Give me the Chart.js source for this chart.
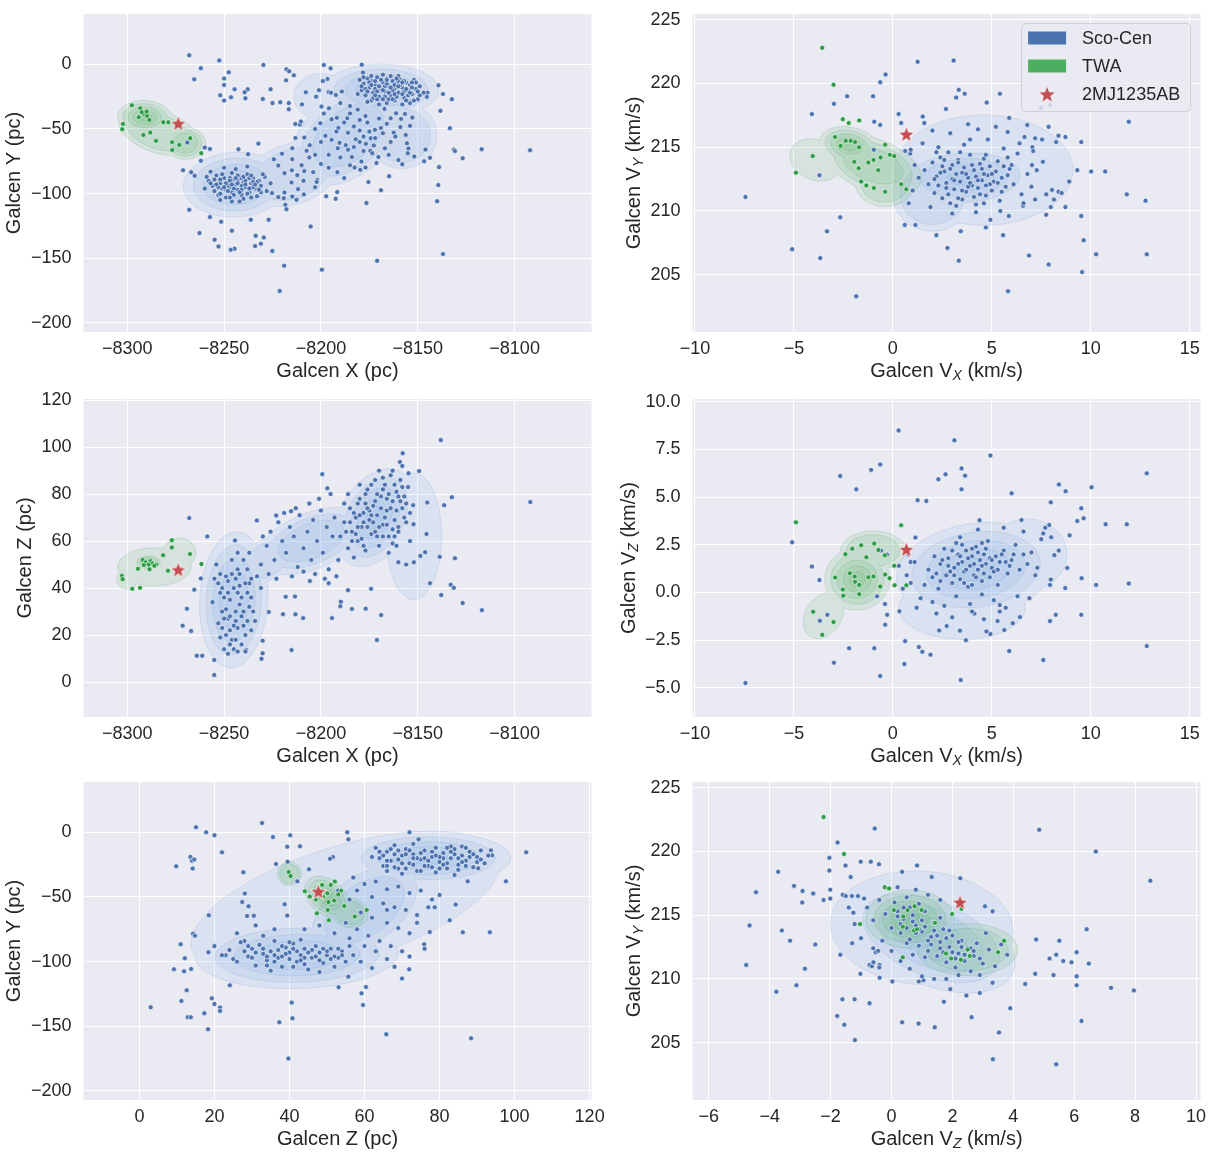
<!DOCTYPE html>
<html>
<head>
<meta charset="utf-8">
<script src="https://cdn.jsdelivr.net/npm/chart.js@4.4.1/dist/chart.umd.min.js"></script>
<style>
  body { margin: 0; background: #fff; }
  #page { position: relative; width: 1211px; height: 1162px; }
  canvas { position: absolute; }
</style>
</head>
<body>
<div id="page"></div>
<script>
// ---- data ----
const seriesNames = ['Sco-Cen', 'TWA', '2MJ1235AB'];

const xRange = [-8322.6, -8060.3];
const yRange = [-207, 38.9];
const zRange = [-14.9, 120.5];
const vxRange = [-10.12, 15.55];
const vyRange = [200.5, 225.45];
const vzRange = [-6.53, 10.15];

const xTicks = [-8300, -8250, -8200, -8150, -8100];
const yTicks = [0, -50, -100, -150, -200];
const zTicks = [0, 20, 40, 60, 80, 100, 120];
const vxTicks = [-10, -5, 0, 5, 10, 15];
const vyTicks = [205, 210, 215, 220, 225];
const vzTicksFine = [-5, -2.5, 0, 2.5, 5, 7.5, 10];
const vzTicksInt = [-6, -4, -2, 0, 2, 4, 6, 8, 10];

// 2MJ1235AB
const starX = -8273.7, starY = -45.9, starZ = 47.7;
const starVX = 0.68, starVY = 216.0, starVZ = 2.25;

// Sco-Cen / TWA members in each projection
const scoXY = [
  [-8268,7],[-8252.5,3],[-8229.7,-0.5],[-8262,-3],[-8265.4,-11.6],[-8247.6,-6.2],[-8250,-11],[-8250,-16],[-8252,-24],[-8250,-28],
  [-8246.4,-25.5],[-8244.6,-19.3],[-8237.8,-19.3],[-8239.4,-21.6],[-8239,-26.3],[-8226,-19.3],[-8230,-26.8],[-8225,-30],[-8221,-29.3],
  [-8217.8,-3.9],[-8216.4,-5.4],[-8214,-8.5],[-8218,-12.4],[-8216.6,-30],[-8216.6,-34.7],[-8209.8,-31],[-8207.8,-21.6],[-8198.5,-0.5],
  [-8195,-3.1],[-8196.6,-11.3],[-8199,-12.9],[-8201,-20],[-8202.5,-25],[-8196,-21.4],[-8194.8,-21.9],[-8192.3,-23.7],[-8189.2,-21.1],
  [-8178.3,-6.4],[-8178.9,-0.3],[-8139.3,-16.2],[-8137,-23],[-8132.4,-27],[-8145,-21.9],[-8145.3,-25.2],[-8133.4,-49.4],[-8138.3,-36],
  [-8152.8,-41.2],[-8154,-47.6],[-8159,-48.4],[-8146,-65.9],[-8131.4,-65.9],[-8130.8,-67],[-8126.8,-72.6],[-8117,-65.6],[-8092,-66.4],
  [-8143.7,-72.3],[-8146.7,-75],[-8139,-79.5],[-8139.4,-93.4],[-8140,-105.8],[-8137,-146.7],[-8171,-152],[-8158,-77.2],[-8164.8,-86.5],
  [-8169,-97.3],[-8175.5,-91],[-8176.5,-107.3],[-8182.6,-79.8],[-8191.5,-83.4],[-8191.6,-98.8],[-8192.4,-104],[-8197.3,-102],
  [-8205.3,-125.4],[-8199.5,-158.8],[-8219,-155.7],[-8221.3,-175.3],[-8225.1,-144.4],[-8227,-120.2],[-8229.5,-133.9],[-8233.7,-132.6],
  [-8234,-140.5],[-8231,-138.7],[-8236.2,-120.2],[-8244.6,-142.6],[-8246.6,-143.4],[-8246,-128.7],[-8252.9,-140.8],[-8254.9,-135.6],
  [-8262.7,-130.5],[-8257.3,-118.1],[-8251.5,-121.7],[-8268,-112.5],[-8271.2,-81.9],[-8267,-83.4],[-8265.2,-86.2],[-8262,-74.6],
  [-8257.3,-65.4],[-8260,-64.4],[-8269,-60.5],[-8232.3,-61.3],[-8242.6,-65.6],[-8237.6,-69.5],
  [-8213.2,-46.1],[-8210.9,-46.6],[-8210.3,-44.3],[-8213.2,-56.9],[-8208.6,-56.6],[-8207.4,-66.9],[-8205.8,-62.5],[-8214.8,-64.9],
  [-8220.1,-69.2],[-8214.8,-73.4],[-8212.2,-85.7],[-8208.6,-82.6],[-8204,-83.4],[-8201.9,-89.3],[-8202.2,-90.9],[-8222,-78.3],
  [-8224.3,-73.4],[-8218.8,-84.2],[-8215.2,-91.4],[-8211.8,-96.5],[-8208.8,-100.6],[-8212.6,-104.8],[-8214.8,-102.2],[-8219.2,-103.5],
  [-8222,-102.7],[-8218.8,-99.1],[-8225.3,-99.6],[-8218.4,-108.6],[-8217.8,-112],[-8198.5,-38.1],[-8199.7,-32.7],[-8195.9,-34],
  [-8194.5,-42.5],[-8191.8,-41.4],[-8191,-49.2],[-8200.3,-45.6],[-8197.7,-55.3],[-8194.5,-58.4],[-8190.4,-60.7],[-8191.3,-64.9],
  [-8187.2,-62.5],[-8185,-32.2],[-8186.4,-41.7],[-8180,-51.2],[-8178,-55.9],[-8176.8,-61.5],[-8174.3,-57.1],[-8174.5,-66.9],
  [-8172.1,-50.7],[-8169,-49.2],[-8168,-53.3],[-8172.7,-62.8],[-8170.3,-71.6],[-8171.3,-76.4],[-8173.5,-68.7],[-8179.1,-75.2],
  [-8179.7,-81.6],[-8177,-79.8],[-8184,-71.6],[-8167.2,-34.5],[-8161.2,-37.8],[-8164,-41.7],[-8156.6,-38.4],[-8158.6,-42.2],
  [-8162.4,-52.8],[-8161.6,-55.9],[-8156.2,-54.6],[-8155.6,-61],[-8154.8,-65.1],[-8155.2,-68.7],[-8151.8,-71.3],
  [-8188,-45],[-8183,-48],[-8182,-58],[-8186,-53],[-8192,-52],[-8180,-43],[-8176,-45],[-8170,-42],[-8166,-46],[-8183,-64],
  [-8178,-67],[-8164,-60],[-8167,-65],[-8200,-60],[-8203,-50],[-8206,-72],[-8200,-77],[-8196,-70],[-8203,-95],[-8209,-90],
  [-8196,-80],[-8188,-88],
  [-8190,-30],[-8185,-38],[-8181,-35],[-8177,-40],[-8175,-52],[-8172,-57],[-8180,-60],[-8186,-66],[-8190,-72],[-8165,-70],
  [-8160,-74],[-8185,-78],[-8203,-70],[-8210,-78],[-8215,-82],
  [-8180,-12],[-8178,-15],[-8176,-11],[-8175,-18],[-8174,-13],[-8173,-22],[-8172,-16],[-8171,-10],[-8170,-25],[-8169,-19],
  [-8168,-14],[-8167,-21],[-8166,-11],[-8165,-17],[-8164,-24],[-8163,-13],[-8162,-19],[-8161,-15],[-8160,-22],[-8159,-12],
  [-8158,-18],[-8157,-26],[-8156,-14],[-8155,-20],[-8154,-16],[-8153,-23],[-8152,-12],[-8151,-19],[-8150,-27],[-8177,-24],
  [-8174,-28],[-8170,-31],[-8166,-30],[-8162,-28],[-8158,-31],[-8154,-30],[-8179,-20],[-8181,-23],[-8168,-8],[-8164,-9],
  [-8160,-9],[-8172,-19],[-8165,-22],[-8157,-21],[-8149,-17],[-8147,-22],
  [-8179,-17],[-8177,-19],[-8175,-14],[-8173,-26],[-8171,-21],[-8169,-12],[-8167,-17],[-8165,-27],[-8163,-20],[-8161,-25],
  [-8159,-16],[-8157,-13],[-8155,-24],[-8153,-18],[-8151,-14],[-8149,-24],[-8176,-29],[-8171,-27],[-8167,-25],[-8162,-16],
  [-8158,-23],[-8156,-28],[-8174,-9],[-8160,-13],[-8152,-28],
  [-8174,-16],[-8172,-13],[-8170,-17],[-8168,-20],[-8166,-15],[-8164,-18],[-8162,-23],[-8160,-17],[-8158,-14],[-8156,-19],
  [-8154,-22],[-8168,-27],[-8163,-27],[-8176,-21],[-8172,-24],[-8166,-12],[-8161,-11],[-8153,-14],[-8150,-21],[-8178,-10],
  [-8258,-90],[-8256,-94],[-8255,-98],[-8254,-86],[-8253,-101],[-8252,-92],[-8251,-96],[-8250,-88],[-8249,-103],[-8248,-91],
  [-8247,-95],[-8246,-84],[-8246,-99],[-8245,-89],[-8244,-93],[-8243,-97],[-8242,-87],[-8241,-101],[-8240,-91],[-8239,-95],
  [-8238,-85],[-8237,-99],[-8236,-92],[-8235,-88],[-8234,-96],[-8233,-102],[-8232,-90],[-8231,-94],[-8229,-87],[-8228,-98],
  [-8250,-80],[-8244,-81],[-8238,-79],[-8252,-105],[-8246,-106],[-8240,-104],[-8260,-96],[-8257,-83],[-8226,-92],[-8243,-90],
  [-8248,-94],[-8241,-88],
  [-8257,-92],[-8255,-89],[-8253,-95],[-8251,-85],[-8249,-97],[-8247,-88],[-8245,-101],[-8243,-86],[-8241,-94],[-8239,-90],
  [-8237,-88],[-8235,-95],[-8233,-91],[-8231,-99],[-8247,-103],[-8252,-100],[-8242,-106],[-8236,-103],[-8230,-85],[-8259,-87],
  [-8249,-92],[-8247,-90],[-8245,-96],[-8243,-92],[-8241,-97],[-8239,-93],[-8237,-96],[-8235,-91],[-8244,-88],[-8240,-87],
  [-8248,-98],[-8246,-93],[-8242,-99],[-8238,-100],[-8250,-95],[-8252,-89],[-8254,-93],[-8234,-93],[-8236,-86],[-8232,-97]
];
const twaXY = [
  [-8297.6,-31.7],[-8293.3,-34],[-8291.5,-38.4],[-8289.8,-39.9],[-8294.1,-40.9],[-8288.6,-43],[-8302.2,-46.1],[-8302.6,-50.2],
  [-8281.4,-44.8],[-8278.8,-44.8],[-8288.1,-52.8],[-8291.7,-54.6],[-8285.2,-59.2],[-8276.9,-60.2],[-8273.1,-62.3],[-8267.5,-57.1],
  [-8276.8,-66.2],[-8261.8,-68.7],[-8292.5,-37],[-8290,-36.5]
];

const scoVXVY = [
  [-7.45,211.1],[-5.09,207.0],[-3.67,206.3],[-3.33,208.4],[-2.66,209.5],[-1.85,203.3],[-3.71,212.8],[-4.09,217.6],[-2.98,218.4],
  [-2.31,219.0],[-1.0,219.0],[-0.64,220.1],[-0.37,220.7],[1.25,221.7],[3.07,221.8],[3.33,219.5],[3.2,218.9],[3.63,219.2],[5.41,219.2],
  [4.74,218.5],[7.49,218.1],[7.94,218.3],[11.92,217.0],[0.29,217.6],[-0.94,217.0],[-0.64,216.75],[0.42,216.9],[1.51,217.4],[1.59,216.9],
  [2.68,218.0],[5.88,217.3],[6.79,216.75],[7.87,216.6],[8.72,215.8],[8.37,215.9],[8.25,215.4],[9.52,215.4],[9.32,213.2],[10.02,213.1],
  [10.73,213.1],[8.91,212.3],[11.82,211.3],[12.77,210.8],[9.52,209.6],[9.64,207.7],[10.27,206.6],[12.83,206.6],[9.56,205.2],[7.87,205.8],
  [6.88,206.5],[5.82,203.7],[3.33,206.1],[2.76,207.1],[2.2,208.1],[4.7,208.7],[5.57,208.1],[4.93,209.3],[5.86,209.6],[5.43,210.0],
  [6.58,210.4],[7.75,209.7],[7.98,210.3],[8.72,210.3],[7.75,211.3],[8.04,211.65],[8.37,211.5],[8.53,211.4],[8.14,210.9],[7.19,210.9],
  [7.03,213.6],[7.58,213.85],[7.27,213.2],[7.05,215.0],[7.09,214.7],[7.19,215.7],[7.54,215.6],[6.65,215.8],[0.6,208.9],[1.14,208.9],
  [3.43,208.4],[0.62,214.7],[0.88,214.5],[-0.96,214.8],
  [1.6,213.2],[1.8,212.1],[2.0,213.8],[2.1,211.4],[2.2,212.7],[2.4,214.2],[2.5,211.0],[2.6,213.1],[2.7,212.2],[2.8,214.6],
  [2.9,210.6],[3.0,213.6],[3.1,211.7],[3.2,212.9],[3.3,214.0],[3.4,212.3],[3.5,210.9],[3.6,213.4],[3.7,211.5],[3.8,212.6],
  [3.9,214.4],[4.0,212.0],[4.1,213.2],[4.2,210.5],[4.3,211.8],[4.4,213.7],[4.5,212.4],[4.6,214.1],[4.7,211.2],[4.8,212.8],
  [4.9,213.5],[5.0,211.6],[5.1,212.3],[5.3,213.9],[5.4,210.8],[5.5,212.6],[5.7,211.9],[5.9,213.3],[6.1,212.1],[6.3,214.5],
  [6.5,211.3],[2.3,215.0],[3.6,215.2],[4.8,215.6],[5.6,214.9],[1.9,210.3],[3.0,209.8],[4.2,209.9],[6.8,212.9],[7.0,211.9],
  [1.3,212.6],[1.1,213.6],[0.9,214.8],[1.5,215.3],[2.9,216.1],[4.3,216.4],[5.2,216.6],[5.8,216.2],[6.4,215.3],[6.6,210.6],
  [3.8,216.8],[2.0,216.3],[1.0,211.6],[0.8,210.6],
  [2.3,212.0],[2.5,213.5],[2.8,211.3],[3.0,212.5],[3.3,211.0],[3.5,213.0],[3.8,211.9],[4.0,213.6],[4.2,212.7],[4.4,211.3],
  [4.6,212.9],[4.9,212.1],[5.2,213.1],[5.5,211.5],[5.8,212.8],[6.0,213.6],[2.6,214.0],[3.4,214.6],[4.7,214.4],[5.8,214.2],
  [2.1,212.5],[2.4,213.0],[2.7,211.8],[2.9,213.3],[3.1,212.4],[3.3,213.8],[3.5,211.6],[3.7,212.9],[3.9,212.2],[4.1,211.1],
  [4.3,212.4],[4.5,213.3],[4.7,212.0],[5.0,212.9],[5.3,212.2],[5.6,213.5],[3.2,210.4],[4.6,210.6],[2.2,214.6],[3.9,215.6]
];
const twaVXVY = [
  [-3.57,222.8],[-3.0,219.9],[-4.05,214.3],[-4.9,213.0],[-2.53,217.2],[-2.23,216.9],[-1.7,217.1],[-2.92,215.8],[-2.38,215.5],
  [-2.64,215.1],[-2.13,215.5],[-1.91,215.4],[-1.71,215.0],[-1.95,213.85],[-1.24,213.8],[-0.98,214.0],[-0.62,214.2],[-0.39,215.2],
  [-0.15,214.4],[0.07,214.3],[-1.6,212.3],[-1.34,212.0],[-0.96,211.8],[-0.39,211.5],[0.42,212.1],[0.68,211.7],[-0.74,213.2],[-1.73,213.35]
];

const scoXZ = [
  [-8138.1,103],[-8157.8,97.4],[-8159.2,93.7],[-8149.3,89.8],[-8154.8,88.9],[-8091.9,76.6],[-8132.4,78.7],[-8136.4,75.3],[-8145.1,76.4],
  [-8145.5,63],[-8152.2,67.2],[-8152.4,75.3],[-8130.8,52.7],[-8138.7,53.3],[-8146.2,55.3],[-8148.7,53.7],[-8143.7,42.1],[-8133,41.4],
  [-8131.4,40.1],[-8137.9,37],[-8126.8,33.6],[-8116.9,30.6],[-8171.1,17.9],[-8168.9,28.5],[-8176.9,31.2],[-8174.1,39.7],[-8184,31.1],
  [-8190,32.3],[-8189.7,34.2],[-8194.3,27.2],[-8196,42.1],[-8186,39.1],[-8199.3,88.5],[-8196.7,82.5],[-8209.2,27.2],[-8213.2,28.8],
  [-8219.6,28.9],[-8215.2,13.6],[-8218.2,36.3],[-8213.4,36.4],[-8205.7,43],[-8226.9,29.8],[-8230.1,17.6],[-8230.1,12.2],[-8230.7,9.9],
  [-8238.6,13.6],[-8255.1,3],[-8255.1,9.4],[-8264.1,11.2],[-8261.3,11.2],[-8267,21.7],[-8271.4,24],[-8269.2,31.2],[-8265.4,39.3],
  [-8262,44.1],[-8258.7,62],[-8268,69.8],[-8244.4,60.3],[-8233.1,68.8],[-8223.1,70.9],[-8215.4,72.7],[-8160,51],[-8156,50],
  [-8152,51],[-8163,59],[-8160,66],[-8166,78],[-8158,92],
  [-8254,50],[-8252,46],[-8251,40],[-8250,36],[-8249,31],[-8248,27],[-8247,22],[-8246,18],[-8245,14],[-8244,44],
  [-8243,38],[-8242,33],[-8241,28],[-8240,24],[-8239,20],[-8238,48],[-8237,42],[-8236,36],[-8235,30],[-8246,52],
  [-8243,55],[-8240,52],[-8237,55],[-8253,25],[-8252,19],[-8250,14],[-8248,12],[-8245,40],[-8243,23],[-8241,16],
  [-8239,13],[-8236,22],[-8234,26],[-8256,34],[-8255,44],[-8247,35],[-8244,30],[-8242,46],[-8248,43],[-8251,30],
  [-8238,38],[-8233,45],[-8231,40],
  [-8252,38],[-8249,45],[-8247,28],[-8245,24],[-8243,48],[-8241,36],[-8239,42],[-8237,32],[-8244,18],[-8249,20],
  [-8253,42],[-8250,27],[-8248,38],[-8246,46],[-8244,26],[-8242,41],[-8240,30],[-8238,26],[-8236,44],[-8251,23],
  [-8247,16],[-8243,13],
  [-8190,62],[-8188,68],[-8186,57],[-8185,74],[-8184,64],[-8182,70],[-8181,60],[-8180,78],[-8179,66],[-8178,72],
  [-8177,56],[-8176,82],[-8175,69],[-8174,63],[-8173,75],[-8172,86],[-8171,71],[-8170,58],[-8169,79],[-8168,67],
  [-8167,84],[-8166,73],[-8165,62],[-8164,88],[-8163,77],[-8162,69],[-8161,81],[-8160,64],[-8159,86],[-8158,74],
  [-8157,79],[-8156,68],[-8155,83],[-8154,60],[-8176,66],[-8172,64],[-8168,62],[-8180,84],[-8170,90],[-8165,55],
  [-8161,58],[-8183,53],[-8186,80],[-8188,76],
  [-8187,64],[-8183,72],[-8181,66],[-8179,61],[-8177,76],[-8175,73],[-8173,68],[-8171,80],[-8169,74],[-8167,70],
  [-8165,80],[-8163,65],[-8161,73],[-8159,77],[-8157,70],[-8174,84],[-8168,87],[-8162,84],[-8178,58],[-8184,60],
  [-8185,68],[-8182,63],[-8180,71],[-8178,68],[-8176,74],[-8174,71],[-8172,77],[-8170,66],[-8168,82],[-8166,67],
  [-8164,74],[-8162,62],[-8160,79],[-8158,83],[-8156,76],[-8154,72],[-8171,62],[-8177,80],[-8163,90],[-8181,76],
  [-8228,58],[-8226,64],[-8224,52],[-8222,68],[-8220,60],[-8218,55],[-8216,66],[-8214,62],[-8212,49],[-8211,71],
  [-8209,57],[-8207,64],[-8205,52],[-8204,69],[-8202,60],[-8200,73],[-8199,55],[-8197,66],[-8196,48],[-8194,62],
  [-8193,70],[-8191,52],[-8215,45],[-8209,47],[-8203,46],[-8198,44],[-8192,45],[-8219,72],[-8213,74],[-8206,76],
  [-8201,78],[-8195,80],[-8231,50],[-8227,46],[-8223,44],[-8230,62]
];
const twaXZ = [
  [-8277,60.4],[-8277,57.3],[-8281.5,54],[-8267.6,54.5],[-8261.7,50.2],[-8279,47.4],[-8302.8,45.2],[-8302.4,43.8],[-8297.4,39.7],
  [-8293.4,40.1],[-8292,52],[-8290.5,51],[-8288,51.5],[-8287,50.5],[-8285,50],[-8289,50],[-8291.5,49.8],[-8294.5,48.2],[-8288.5,48],[-8286,49.5]
];

const scoVXVZ = [
  [-7.45,-4.75],[-5.09,2.64],[-4.09,1.36],[-3.71,0.65],[-3.69,-1.48],[-3.31,-1.17],[-2.98,-3.68],[-2.66,6.11],[-1.85,5.41],[-2.21,-2.92],
  [-1.1,6.43],[-0.64,6.72],[-0.94,-2.92],[-0.64,-4.38],[0.29,8.5],[-0.39,-1.69],[-0.29,-1.17],[0.33,-0.98],[0.62,-2.55],[0.58,-3.75],
  [1.31,-2.86],[1.49,-3.11],[1.9,-3.26],[1.25,4.84],[1.69,4.8],[1.14,2.88],[2.3,5.94],[2.66,6.2],[3.11,7.98],[3.47,6.51],[3.65,6.13],
  [3.47,5.41],[4.93,7.19],[6.0,5.2],[8.39,5.67],[8.73,5.31],[10.04,5.52],[12.83,6.25],[7.98,4.73],[9.52,4.42],[9.64,3.89],[9.32,3.75],
  [10.75,3.58],[11.82,3.58],[8.93,3.0],[7.9,3.54],[7.6,3.1],[6.5,3.8],[4.38,3.79],[8.81,1.29],[8.16,1.96],[8.38,2.2],[9.54,0.75],
  [10.27,0.4],[11.92,0.47],[8.71,0.23],[7.98,0.68],[7.94,0.4],[9.52,-1.17],[8.23,-1.17],[7.94,-1.5],[7.6,-3.54],[12.83,-2.81],
  [5.88,-3.07],[6.06,-1.61],[6.42,-1.29],[5.63,-1.97],[5.29,-1.5],[5.4,-0.66],[4.73,-2.04],[4.93,-2.18],[3.39,-2.0],[3.69,-2.5],
  [3.43,-4.59],[2.72,-1.76],[2.34,-1.99],[4.12,-1.1],[0.9,1.6],[0.7,0.9],[0.5,0.2],[0.3,1.4],[-0.6,2.2],[-0.3,2.0],[-0.8,-0.2],[-0.4,-0.6],
  [1.6,0.4],[1.8,1.2],[2.0,0.8],[2.1,1.9],[2.3,0.2],[2.4,1.5],[2.6,2.3],[2.7,0.9],[2.8,1.8],[3.0,0.5],
  [3.1,1.3],[3.2,2.6],[3.3,2.0],[3.4,0.7],[3.5,1.6],[3.6,1.1],[3.7,2.2],[3.8,0.3],[3.9,1.4],[4.0,1.9],
  [4.1,0.9],[4.2,2.4],[4.3,1.2],[4.4,1.7],[4.5,0.6],[4.6,2.0],[4.7,1.5],[4.8,2.7],[4.9,0.8],[5.0,1.3],
  [5.2,1.9],[5.3,0.4],[5.4,1.6],[5.6,2.2],[5.8,1.0],[6.0,1.7],[6.2,2.5],[6.4,1.2],[6.6,2.0],[6.8,1.5],
  [7.0,2.1],[7.3,1.3],[1.4,-0.3],[2.0,-0.5],[2.6,-0.7],[3.2,-0.2],[3.9,-0.6],[4.5,-0.1],[5.1,-0.4],[5.7,-0.8],
  [6.3,-0.2],[1.2,-0.8],[2.2,-1.1],[3.0,-1.3],[4.0,-1.0],[4.6,-1.4],[5.4,-1.0],[0.9,0.5],[1.1,1.6],[0.8,2.0],
  [3.4,2.9],[4.3,3.3],[5.6,3.4],[6.6,3.2],[7.5,2.8],[7.7,3.4],[7.2,0.9],[6.9,-0.3],[8.0,2.9],
  [2.2,1.0],[2.5,1.7],[2.9,1.1],[3.3,1.5],[3.6,0.5],[3.8,1.8],[4.1,1.5],[4.3,2.1],[4.6,1.0],[4.9,1.8],
  [5.1,1.1],[5.5,2.0],[5.9,1.4],[3.0,2.2],[4.5,2.6],
  [2.4,0.6],[2.8,1.4],[3.1,0.9],[3.4,1.9],[3.7,1.2],[4.0,2.3],[4.2,0.8],[4.5,1.4],[4.7,2.3],[5.0,1.7],
  [5.3,1.2],[5.7,1.6],[6.1,2.0],[3.5,2.5],[4.0,0.4]
];
const twaVXVZ = [
  [-4.9,3.68],[-4.03,-1.01],[-3.57,-2.22],[-3.0,-1.55],[-2.92,0.79],[-2.53,0.16],[-2.51,-0.17],[-2.4,2.01],[-2.05,2.3],[-2.17,1.01],
  [-1.91,0.56],[-1.7,0.4],[-1.93,0.84],[-1.7,-0.09],[-1.6,2.48],[-1.34,1.85],[-1.24,0.8],[-0.94,2.57],[-0.98,0.84],[-0.64,0.31],
  [-0.39,0.94],[-0.17,0.75],[0.07,1.41],[0.09,0.38],[0.42,3.53],[0.68,0.38],[-0.73,2.23],[-0.41,1.96]
];

const scoZY = [
  [3,-135.3],[9.8,-26.3],[9.2,-105.9],[11.2,-130.4],[11,-86.6],[11.9,-107.5],[12.1,-97.4],[12.6,-122.1],[12.9,-143],[13.7,-143],
  [13.6,-19],[14,-22],[14.2,-28],[14.6,-21],[15.1,3.9],[13.8,-105.7],[14.3,-78.4],[14.8,-80],[17.8,0],[20,-2.3],[22,-15.5],
  [17.3,-139.9],[18.3,-152.3],[18.5,-64.2],[18.4,-92.8],[19.3,-128.3],[20,-132.7],[21.5,-135.5],[21.5,-138.1],[24.1,-118.3],
  [27.7,-30.9],[28.1,-47.4],[27.4,-53.9],[29.1,-57.2],[28.7,-64.7],[30.5,-64.5],[32.7,7.2],[35.6,-3.6],[36.4,-24.5],[39.4,-11.1],
  [40.2,-2.3],[39.5,-22.7],[42.8,-10.8],[45.2,-28.6],[42.1,-37.9],[37.3,-146.9],[39.7,-175],[40.6,-131.7],[40.8,-143.8],[38.7,-55.7],
  [39.4,-64.4],[51.6,-19.1],[50.8,-20.5],[55.4,0],[55.7,-5.4],[53.1,-119.8],[55.7,-111.6],[59.2,-124.5],[59.6,-133.5],[60.4,-119.6],
  [65.8,-156.2],[72,0],[74.4,-5.4],[70,-113.1],[71.9,-105.9],[75.9,-86.6],[77.4,-77.1],[88.4,-159.3],[86.2,-77.3],[93.4,-77.3],
  [97.7,-37.9],[103.1,-15.5],[93.7,-13.9],[94,-17.8],[90.3,-27.8],[87.5,-37.9],[84.3,-55.9],[82.7,-68],[80,-48.4],[78.7,-58],
  [31,-72],[33,-80],[26,-78],[28,-84],[23,-95],[36,-75],[44,-75],[48,-72],
  [63,-12],[64,-20],[65,-26],[66,-15],[67,-22],[68,-10],[69,-28],[70,-18],[71,-13],[72,-24],
  [73,-17],[74,-30],[75,-21],[76,-14],[77,-26],[78,-19],[79,-12],[80,-23],[81,-16],[82,-28],
  [83,-20],[84,-13],[85,-25],[86,-18],[87,-22],[88,-15],[89,-27],[90,-19],[91,-14],[92,-24],
  [66,-30],[70,-32],[79,-31],[84,-33],[62,-19],[73,-9],[86,-11],[93,-18],[76,-20],[81,-20],
  [64,-15],[66,-22],[68,-17],[70,-24],[72,-14],[74,-20],[76,-26],[78,-15],[80,-19],[82,-24],
  [84,-17],[86,-23],[88,-19],[90,-23],[71,-28],[75,-30],[80,-28],[85,-29],[68,-27],[83,-11],
  [65,-18],[67,-13],[69,-21],[71,-17],[73,-25],[75,-16],[77,-22],[79,-18],[81,-25],[83,-15],
  [85,-20],[87,-26],[89,-17],[91,-21],[73,-20],[78,-27],[82,-12],[69,-14],[87,-12],[66,-26],
  [20,-88],[22,-95],[24,-91],[26,-100],[27,-85],[29,-96],[30,-90],[31,-103],[32,-87],[33,-94],
  [34,-99],[35,-92],[36,-84],[37,-97],[38,-104],[39,-89],[40,-93],[41,-86],[42,-100],[43,-95],
  [44,-90],[45,-106],[46,-97],[47,-88],[48,-93],[49,-101],[50,-95],[51,-90],[52,-104],[53,-97],
  [54,-92],[55,-100],[56,-88],[57,-95],[25,-98],[35,-107],[43,-83],[48,-108],[38,-96],
  [28,-92],[30,-97],[33,-90],[36,-95],[38,-88],[40,-98],[42,-92],[44,-97],[46,-91],[48,-99],
  [50,-92],[52,-96],[34,-103],[41,-104],[54,-95],
  [31,-93],[34,-96],[37,-91],[39,-94],[41,-90],[43,-99],[45,-93],[47,-96],[49,-90],[51,-98],
  [36,-100],[44,-102],[40,-85],[29,-88],[53,-90],
  [57,-35],[60,-40],[63,-38],[66,-44],[69,-42],[72,-47],[75,-45],[78,-52],[62,-50],[65,-55],
  [68,-58],[71,-60],[74,-64],[59,-62],[62,-66],[66,-70],[69,-74],[72,-78],[58,-75],[61,-80],
  [64,-84],[67,-88],[70,-92],[55,-70],[52,-78],[56,-82],[60,-88],[63,-92],[66,-98],[59,-100],
  [62,-105],[68,-104],[72,-96],[76,-90],[53,-45],[56,-52],[58,-45],[66,-60],[74,-70],[77,-58]
];
const twaZY = [
  [39.8,-30.7],[40.3,-33.8],[44.1,-45.6],[45.4,-49.7],[48.7,-40.7],[51,-40.7],[52.1,-38.1],[50.1,-47.2],[50.4,-53.9],[51.9,-52.8],
  [53.8,-45.1],[54.6,-57],[50.2,-60],[47.3,-62.6],[50.5,-68],[57.4,-65.2],[60.6,-60],[49,-50],[47,-52],[53,-48]
];

const scoVZVY = [
  [-4.77,211.1],[-4.66,214.2],[-4.45,216.8],[-3.72,218.4],[-3.78,209.0],[-3.6,213.8],[-3.33,213.0],[-3.2,217.3],[-2.92,216.9],
  [-2.93,216.0],[-3.12,209.5],[-2.84,210.8],[-2.57,216.7],[-2.5,212.7],[-2.23,216.2],[-2.04,219.5],[-2.04,218.5],[-2.01,217.0],
  [-2.01,216.3],[-1.77,220.7],[-1.68,211.9],[-1.61,208.4],[-1.78,207.1],[-1.55,206.4],[-1.2,205.2],[-1.21,208.4],[-1.51,218.9],
  [-1.34,218.0],[-1.6,216.6],[-1.5,216.5],[-1.3,216.5],[-1.1,216.5],[-1.01,219.2],[-0.68,219.2],[-0.55,221.8],[-0.41,219.0],
  [-0.72,208.1],[-1.21,214.3],[-1.25,215.2],[-1.29,212.8],[-1.02,210.4],[-0.72,211.1],[-0.64,211.0],[-0.59,211.3],[-0.39,211.1],
  [-0.52,212.1],[-0.44,212.2],[-0.39,210.1],[0.03,209.8],[0.35,206.6],[0.89,206.5],[1.42,206.2],[1.72,208.2],[1.93,209.2],
  [2.46,208.7],[2.63,207.0],[2.9,208.9],[3.32,209.7],[3.33,203.7],[3.53,205.8],[3.9,207.7],[4.39,209.6],[4.72,210.4],[4.75,213.1],
  [4.85,221.7],[5.19,211.6],[5.41,211.9],[5.32,210.3],[5.51,213.0],[5.41,203.3],[5.64,211.4],[5.91,211.3],[6.08,212.1],[6.08,210.2],
  [6.08,209.5],[6.24,206.7],[6.41,213.9],[6.48,211.2],[6.71,220.0],[7.21,209.3],[7.96,209.1],[8.5,217.7],[3.07,215.7],[3.32,215.3],
  [2.26,217.9],[1.32,218.0],[0.84,218.9],[0.35,218.4],[0.9,209.8],[1.05,209.9],
  [-0.8,215.6],[-0.6,214.6],[-0.4,216.2],[-0.2,215.1],[0.0,214.0],[0.1,216.0],[0.2,215.3],[0.3,213.6],[0.4,214.7],[0.5,216.4],
  [0.6,213.1],[0.7,215.0],[0.8,214.2],[0.9,212.6],[1.0,213.7],[1.1,215.3],[1.2,212.2],[1.3,213.3],[1.4,214.4],[1.5,211.8],
  [1.6,212.9],[1.7,213.9],[1.8,211.3],[1.9,212.5],[2.0,213.4],[2.1,210.9],[2.2,212.0],[2.3,213.0],[2.4,211.4],[2.5,212.4],
  [2.6,210.6],[2.7,211.8],[2.8,212.8],[3.0,211.2],[3.2,212.3],[3.4,211.0],[3.6,212.7],[3.8,211.9],[0.0,212.2],[0.3,211.4],
  [0.6,210.8],[1.0,210.2],[1.4,210.0],[1.8,210.0],[2.2,210.3],[-1.0,213.2],[-0.6,212.4],[-0.3,213.0],[0.2,217.2],[0.8,217.0],
  [1.2,216.6],[1.6,216.2],[-0.4,210.9],[0.7,211.9],[3.1,213.6],[2.9,210.3],[-1.4,215.6],[-0.9,216.3],
  [0.3,214.3],[0.6,215.6],[0.8,213.6],[1.0,214.6],[1.2,213.0],[1.4,213.8],[1.6,212.4],[1.8,213.2],[2.0,212.1],[2.2,212.9],
  [2.4,211.9],[2.6,212.4],[0.5,212.8],[1.1,211.7],[2.9,211.6],
  [0.2,214.9],[0.5,214.0],[0.7,214.5],[0.9,213.9],[1.1,214.1],[1.3,212.7],[1.5,213.4],[1.7,212.1],[1.9,213.8],[2.1,211.6],
  [2.3,212.5],[0.4,215.6],[0.9,215.9],[1.6,214.8],[2.7,212.2]
];
const twaVZVY = [
  [-2.23,222.7],[-1.56,219.8],[-1.03,214.3],[-0.22,217.2],[-0.08,217.1],[0.08,215.4],[0.39,214.9],[0.53,215.4],[0.76,215.7],
  [0.99,215.4],[0.37,214.1],[0.74,213.8],[0.84,213.9],[1.43,214.4],[1.99,215.1],[2.3,215.5],[1.79,212.0],[1.96,211.6],[2.28,211.5],
  [2.5,212.3],[2.57,211.8],[3.5,212.1],[3.7,213.0],[0.37,211.7]
];

// density blobs standing in for the KDE contours: [cx, cy, ax, ay, minor/major, levels]
const kdeScoXY = [[-8244,-93,27,2,0.62,5],[-8169,-20,30,0,0.45,5],[-8186,-55,27,30,0.62,3],[-8215,-85,23,11,0.65,2],[-8158,-55,18,0,0.95,2],[-8200,-25,14,0,0.85,1]];
const kdeTwaXY = [[-8291,-41,14,-1,0.62,5],[-8284,-52,20,-10,0.52,2],[-8270,-61,10.5,0,0.8,3]];
const kdeScoVXVY = [[3.6,212.6,3.5,0.3,0.44,5],[4.6,213.2,4.5,0,0.62,1],[2.0,211.2,2.0,0,0.9,2],[6.5,213.5,2.0,0,1.0,1]];
const kdeTwaVXVY = [[-2.2,215.1,1.5,-0.5,0.62,5],[-1.0,213.6,2.4,-1.4,0.52,3],[-3.9,214.0,1.25,-0.8,0.75,1],[-0.4,212.2,1.5,0,0.8,2]];
const kdeScoXZ = [[-8245,35,2,29,0.5,4],[-8172,70,13.5,19.5,0.66,5],[-8205,60,27,9,0.5,3],[-8228,52,14,7,0.62,2],[-8152,62,0,27,0.44,1]];
const kdeTwaXZ = [[-8289,51,7.5,0,0.55,5],[-8286,49,19,0,0.52,1],[-8300,44,5.5,0,1,1],[-8273,55,8.5,0,0.9,1]];
const kdeScoVXVZ = [[4.2,1.2,4.0,0.6,0.58,5],[3.5,-0.8,3.2,0,0.5,1],[6.8,2.0,2.0,0,0.9,1]];
const kdeTwaVXVZ = [[-1.8,0.7,1.65,0,0.95,5],[-3.5,-1.2,0.7,1.1,0.72,1],[-1.0,2.2,1.65,0,0.6,2]];
const kdeScoZY = [[42,-95,27,2,0.33,4],[77,-20,22,0,0.32,5],[60,-60,16,32,0.57,3],[55,-55,41,36,0.36,1]];
const kdeTwaZY = [[50,-50,5.2,-12.5,0.68,5],[56,-62,4.8,-3.7,0.8,2],[40,-32,3.2,0,1,2]];
const kdeScoVZVY = [[1.3,213.2,2.7,-2.7,0.52,5],[1.0,214.0,3.0,-0.5,0.62,1]];
const kdeTwaVZVY = [[0.6,214.7,1.45,0,0.66,5],[2.5,212.3,1.65,0,0.52,2]];

// ---- drawing ----
const FONT = '"Liberation Sans", Arial, sans-serif';
const TEXT = '#262626';
const BLUE = '#4C72B0', GREEN = '#2E9B47', GREEN_PATCH = '#4CAE5E', RED = '#C44E52';
Chart.defaults.font.family = FONT;
Chart.defaults.color = TEXT;

function fmt(v, d) {
  const s = Math.abs(v).toFixed(d);
  return v < 0 ? '\u2212' + s : s;
}

function starPath(g, cx, cy, r) {
  g.beginPath();
  for (let i = 0; i < 10; i++) {
    const rr = i % 2 ? r * 0.42 : r;
    const a = -Math.PI / 2 + i * Math.PI / 5;
    g.lineTo(cx + rr * Math.cos(a), cy + rr * Math.sin(a));
  }
  g.closePath();
}

function makeStar(size) {
  const c = document.createElement('canvas');
  c.width = c.height = size;
  const g = c.getContext('2d');
  starPath(g, size / 2, size / 2 + 0.5, size / 2 - 1);
  g.fillStyle = RED; g.fill();
  g.strokeStyle = '#fff'; g.lineWidth = 0.8; g.stroke();
  return c;
}
const starImg = makeStar(19);

function drawKde(chart, blobs, fill, line) {
  const {ctx, chartArea: a, scales: {x, y}} = chart;
  const sx = Math.abs(x.getPixelForValue(x.min + 1) - x.getPixelForValue(x.min));
  const sy = Math.abs(y.getPixelForValue(y.min + 1) - y.getPixelForValue(y.min));
  const addEllipse = e => {
    ctx.moveTo(e.px + e.rx * Math.cos(e.rot), e.py + e.rx * Math.sin(e.rot));
    ctx.ellipse(e.px, e.py, e.rx, e.ry, e.rot, 0, Math.PI * 2);
  };
  ctx.save();
  ctx.beginPath(); ctx.rect(a.left, a.top, a.width, a.height); ctx.clip();
  for (let k = 0; k < 5; k++) {
    const s = 1 - k * 0.19;
    const shapes = blobs.filter(b => k < b[5]).map(([cx, cy, ax, ay, ratio]) => {
      const vx = ax * sx, vy = -ay * sy;
      const len = Math.hypot(vx, vy) * s;
      return {px: x.getPixelForValue(cx), py: y.getPixelForValue(cy), rx: len, ry: len * ratio, rot: Math.atan2(vy, vx)};
    });
    if (!shapes.length) continue;
    ctx.beginPath(); shapes.forEach(addEllipse);
    ctx.fillStyle = fill; ctx.fill();
    // outline of the union only
    shapes.forEach((e, i) => {
      ctx.save();
      shapes.forEach((o, j) => {
        if (j === i) return;
        ctx.beginPath(); ctx.rect(a.left, a.top, a.width, a.height); addEllipse(o);
        ctx.clip('evenodd');
      });
      ctx.beginPath(); addEllipse(e);
      ctx.strokeStyle = line; ctx.lineWidth = 0.8; ctx.stroke();
      ctx.restore();
    });
  }
  ctx.restore();
}

function drawTitle(ctx, parts, x, y, rotate) {
  const p = typeof parts === 'string' ? [parts, '', ''] : parts;
  const big = '20px ' + FONT, small = 'italic 14px ' + FONT;
  ctx.save();
  ctx.translate(x, y);
  if (rotate) ctx.rotate(-Math.PI / 2);
  ctx.font = big;
  const w0 = ctx.measureText(p[0]).width, w2 = ctx.measureText(p[2]).width;
  ctx.font = small;
  const w1 = ctx.measureText(p[1]).width;
  let cx = -(w0 + w1 + w2) / 2;
  ctx.fillStyle = TEXT; ctx.textBaseline = 'middle'; ctx.textAlign = 'left';
  ctx.font = big; ctx.fillText(p[0], cx, 0); cx += w0;
  ctx.font = small; ctx.fillText(p[1], cx, 5); cx += w1;
  ctx.font = big; ctx.fillText(p[2], cx, 0);
  ctx.restore();
}

function drawLegend(chart) {
  const {ctx, chartArea: a} = chart;
  const w = 169, h = 88, bx = a.right - 10.5 - w, by = a.top + 9;
  ctx.save();
  ctx.beginPath();
  ctx.roundRect(bx + 0.5, by + 0.5, w, h, 4);
  ctx.fillStyle = 'rgba(234,234,242,0.8)'; ctx.fill();
  ctx.strokeStyle = '#cfcfd4'; ctx.lineWidth = 1; ctx.stroke();
  const colors = [BLUE, GREEN_PATCH];
  ctx.font = '18px ' + FONT; ctx.fillStyle = TEXT; ctx.textBaseline = 'middle';
  seriesNames.forEach((name, i) => {
    const cy = by + 15 + i * 28;
    if (i < 2) {
      ctx.fillStyle = colors[i];
      ctx.fillRect(bx + 7, cy - 6.5, 38, 13);
    } else {
      starPath(ctx, bx + 26, cy + 1, 8);
      ctx.fillStyle = RED; ctx.fill();
    }
    ctx.fillStyle = TEXT;
    ctx.fillText(name, bx + 61, cy + 1);
  });
  ctx.restore();
}

const panels = [
  {col: 0, row: 0, sco: scoXY, twa: twaXY, star: [starX, starY], xr: xRange, yr: yRange, xt: xTicks, yt: yTicks, xd: 0, yd: 0,
   xl: 'Galcen X (pc)', yl: 'Galcen Y (pc)', kb: kdeScoXY, kg: kdeTwaXY},
  {col: 1, row: 0, sco: scoVXVY, twa: twaVXVY, star: [starVX, starVY], xr: vxRange, yr: vyRange, xt: vxTicks, yt: vyTicks, xd: 0, yd: 0,
   xl: ['Galcen V', 'X', ' (km/s)'], yl: ['Galcen V', 'Y', ' (km/s)'], kb: kdeScoVXVY, kg: kdeTwaVXVY, legend: true},
  {col: 0, row: 1, sco: scoXZ, twa: twaXZ, star: [starX, starZ], xr: xRange, yr: zRange, xt: xTicks, yt: zTicks, xd: 0, yd: 0,
   xl: 'Galcen X (pc)', yl: 'Galcen Z (pc)', kb: kdeScoXZ, kg: kdeTwaXZ},
  {col: 1, row: 1, sco: scoVXVZ, twa: twaVXVZ, star: [starVX, starVZ], xr: vxRange, yr: vzRange, xt: vxTicks, yt: vzTicksFine, xd: 0, yd: 1,
   xl: ['Galcen V', 'X', ' (km/s)'], yl: ['Galcen V', 'Z', ' (km/s)'], kb: kdeScoVXVZ, kg: kdeTwaVXVZ},
  {col: 0, row: 2, sco: scoZY, twa: twaZY, star: [starZ, starY], xr: zRange, yr: yRange, xt: zTicks, yt: yTicks, xd: 0, yd: 0,
   xl: 'Galcen Z (pc)', yl: 'Galcen Y (pc)', kb: kdeScoZY, kg: kdeTwaZY},
  {col: 1, row: 2, sco: scoVZVY, twa: twaVZVY, star: [starVZ, starVY], xr: vzRange, yr: vyRange, xt: vzTicksInt, yt: vyTicks, xd: 0, yd: 0,
   xl: ['Galcen V', 'Z', ' (km/s)'], yl: ['Galcen V', 'Y', ' (km/s)'], kb: kdeScoVZVY, kg: kdeTwaVZVY}
];

const CW = 605, CH = 385, ROW_TOP = [0, 385, 768], PLOT_LEFT = [83.5, 87.6], PLOT_W = 508, PLOT_H = 318, PAD_TOP = 14;
const page = document.getElementById('page');

panels.forEach(p => {
  const canvas = document.createElement('canvas');
  canvas.width = CW; canvas.height = CH;
  canvas.style.left = (p.col * CW) + 'px';
  canvas.style.top = ROW_TOP[p.row] + 'px';
  canvas.style.width = CW + 'px'; canvas.style.height = CH + 'px';
  page.appendChild(canvas);
  const left = PLOT_LEFT[p.col];

  const panelPlugin = {
    id: 'panel',
    beforeDraw(chart) {
      const {ctx, chartArea: a} = chart;
      ctx.save(); ctx.fillStyle = '#EAEAF2';
      ctx.fillRect(a.left, a.top, a.width, a.height); ctx.restore();
    },
    beforeDatasetsDraw(chart) {
      drawKde(chart, p.kb, 'rgba(140,185,232,0.17)', 'rgba(80,130,195,0.17)');
      drawKde(chart, p.kg, 'rgba(110,190,122,0.17)', 'rgba(50,140,70,0.2)');
    },
    afterDraw(chart) {
      const {ctx, chartArea: a, scales: {y}} = chart;
      drawTitle(ctx, p.xl, (a.left + a.right) / 2, a.bottom + 39, false);
      ctx.save(); ctx.font = '18px ' + FONT;
      const maxW = Math.max(...y.ticks.map(t => ctx.measureText(t.label).width));
      ctx.restore();
      drawTitle(ctx, p.yl, a.left - 12 - maxW - 16, (a.top + a.bottom) / 2, true);
      if (p.legend) drawLegend(chart);
    }
  };

  const pts = arr => arr.map(([x, y]) => ({x, y}));
  new Chart(canvas, {
    type: 'scatter',
    data: {
      datasets: [
        {label: seriesNames[2], data: [{x: p.star[0], y: p.star[1]}], pointStyle: starImg, order: 0},
        {label: seriesNames[1], data: pts(p.twa), backgroundColor: GREEN, borderColor: '#fff', borderWidth: 0.6, pointRadius: 2.5, order: 1},
        {label: seriesNames[0], data: pts(p.sco), backgroundColor: BLUE, borderColor: '#fff', borderWidth: 0.6, pointRadius: 2.5, order: 2}
      ]
    },
    options: {
      responsive: false,
      animation: false,
      events: [],
      layout: {autoPadding: false, padding: {left: 0, top: PAD_TOP, right: CW - left - PLOT_W, bottom: 0}},
      plugins: {legend: {display: false}, tooltip: {enabled: false}},
      scales: {
        x: {
          type: 'linear', min: p.xr[0], max: p.xr[1],
          afterBuildTicks: s => { s.ticks = p.xt.map(v => ({value: v})); },
          afterFit: s => { s.height = CH - PAD_TOP - PLOT_H; s.paddingLeft = 0; s.paddingRight = 0; },
          ticks: {autoSkip: false, maxRotation: 0, padding: 6, color: TEXT, font: {size: 18}, callback: v => fmt(v, p.xd)},
          grid: {color: '#fff', lineWidth: 1, drawTicks: false},
          border: {display: false}
        },
        y: {
          type: 'linear', min: p.yr[0], max: p.yr[1],
          afterBuildTicks: s => { s.ticks = p.yt.map(v => ({value: v})); },
          afterFit: s => { s.width = left; s.paddingTop = 0; s.paddingBottom = 0; },
          ticks: {autoSkip: false, padding: 12, color: TEXT, font: {size: 18}, callback: v => fmt(v, p.yd)},
          grid: {color: '#fff', lineWidth: 1, drawTicks: false},
          border: {display: false}
        }
      }
    },
    plugins: [panelPlugin]
  });
});
</script>
</body>
</html>
